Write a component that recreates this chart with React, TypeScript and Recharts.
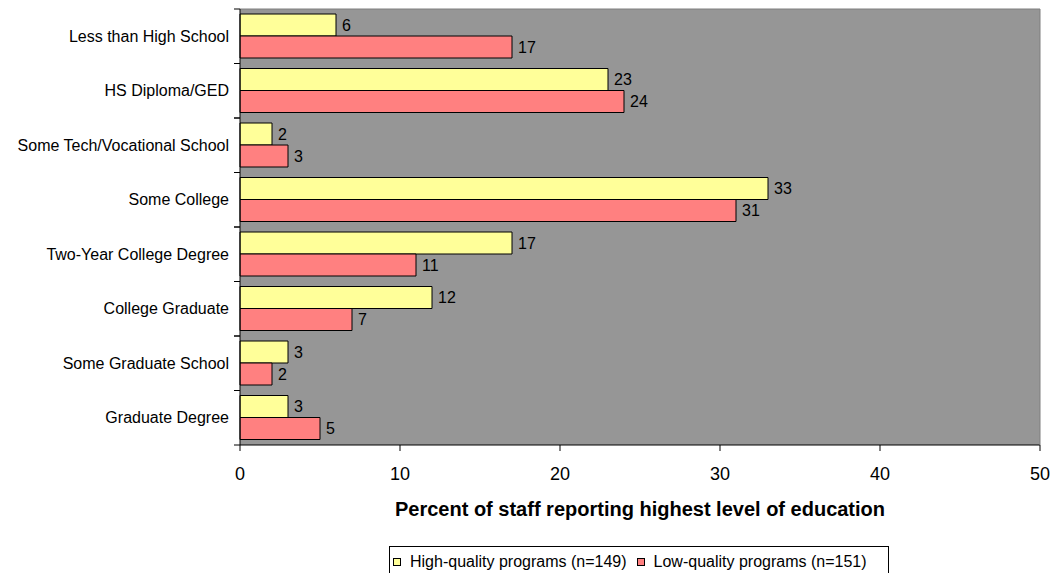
import React from "react";
import { BarChart, Bar, XAxis, YAxis, CartesianGrid, LabelList, Legend } from "recharts";

// Highest level of education reported by staff, in percent
const categories = [
  "Less than High School",
  "HS Diploma/GED",
  "Some Tech/Vocational School",
  "Some College",
  "Two-Year College Degree",
  "College Graduate",
  "Some Graduate School",
  "Graduate Degree",
];
const highQuality = [6, 23, 2, 33, 17, 12, 3, 3];
const lowQuality = [17, 24, 3, 31, 11, 7, 2, 5];
const xTicks = [0, 10, 20, 30, 40, 50];

const seriesNames = {
  high: "High-quality programs (n=149)",
  low: "Low-quality programs (n=151)",
};

const data = categories.map((category, i) => ({
  category,
  high: highQuality[i],
  low: lowQuality[i],
}));

const W = 1054;
const H = 573;
const MARGIN = { top: 8, right: 13, left: 0, bottom: 0 };
const X_AXIS_H = 80;
const LEGEND_H = 48;
const PLOT_TOP = MARGIN.top + 1;
const PLOT_H = H - PLOT_TOP - X_AXIS_H - LEGEND_H;
const BAND = PLOT_H / categories.length;

const YELLOW = "#FFFF99";
const RED = "#FF8080";
const PLOT_BG = "#969696";

// Category label plus Excel-style tick marks on the band edges
function CategoryTick({ x, y, payload }: any) {
  const axisX = x + 11;
  const half = BAND / 2;
  return (
    <g>
      <line x1={axisX - 6} x2={axisX} y1={y - half} y2={y - half} stroke="#000" />
      <line x1={axisX - 6} x2={axisX} y1={y + half} y2={y + half} stroke="#000" />
      <text x={x} y={y} dy="0.355em" textAnchor="end" fontSize={16} fill="#000">
        {payload.value}
      </text>
    </g>
  );
}

function AxisTitle({ viewBox }: any) {
  const { x, y, width } = viewBox;
  return (
    <text x={x + width / 2} y={y + 71} textAnchor="middle" fontSize={20} fontWeight="bold" fill="#000">
      Percent of staff reporting highest level of education
    </text>
  );
}

function LegendBox() {
  const item = (color: string, label: string) => (
    <span style={{ display: "inline-flex", alignItems: "center", marginRight: 10 }}>
      <span
        style={{
          width: 8,
          height: 8,
          boxSizing: "border-box",
          border: "1px solid #000",
          background: color,
          display: "inline-block",
          marginRight: 9,
        }}
      />
      <span style={{ fontSize: 16, color: "#000", whiteSpace: "nowrap" }}>{label}</span>
    </span>
  );
  return (
    <div style={{ position: "relative", height: LEGEND_H }}>
      <div
        style={{
          position: "absolute",
          left: 389,
          top: 21,
          width: 500,
          height: 32,
          boxSizing: "border-box",
          border: "1px solid #000",
          background: "#fff",
          display: "flex",
          alignItems: "center",
          paddingLeft: 3,
        }}
      >
        {item(YELLOW, seriesNames.high)}
        {item(RED, seriesNames.low)}
      </div>
    </div>
  );
}

export default function App() {
  return (
    <div
      style={{
        position: "absolute",
        left: 0,
        top: 0,
        width: W,
        height: H,
        overflow: "hidden",
        background: "#fff",
        fontFamily: "Arial, 'Liberation Sans', sans-serif",
      }}
    >
      <BarChart width={W} height={H} data={data} layout="vertical" margin={MARGIN} barCategoryGap={5} barGap={0}>
        <CartesianGrid fill={PLOT_BG} fillOpacity={1} horizontal={false} vertical={false} />
        <XAxis
          type="number"
          domain={[0, 50]}
          ticks={xTicks}
          height={X_AXIS_H}
          tickSize={6}
          tickMargin={16}
          axisLine={{ stroke: "#000" }}
          tickLine={{ stroke: "#000" }}
          tick={{ fontSize: 18, fill: "#000" }}
          label={<AxisTitle />}
        />
        {/* thin grey frame on the top and right of the plot */}
        <XAxis
          xAxisId="top"
          orientation="top"
          type="number"
          domain={[0, 50]}
          height={1}
          tick={false}
          tickLine={false}
          axisLine={{ stroke: "#7f7f7f" }}
        />
        <YAxis
          yAxisId="right"
          orientation="right"
          type="category"
          dataKey="category"
          width={1}
          tick={false}
          tickLine={false}
          axisLine={{ stroke: "#7f7f7f" }}
        />
        <YAxis
          type="category"
          dataKey="category"
          width={240}
          interval={0}
          tickSize={6}
          tickMargin={5}
          tickLine={false}
          axisLine={{ stroke: "#000" }}
          tick={<CategoryTick />}
        />
        <Legend verticalAlign="bottom" content={<LegendBox />} wrapperStyle={{ left: 0, width: W, height: LEGEND_H }} />
        <Bar dataKey="high" name={seriesNames.high} fill={YELLOW} stroke="#000" strokeWidth={1} isAnimationActive={false}>
          <LabelList dataKey="high" position="right" offset={6} fontSize={16} fill="#000" />
        </Bar>
        <Bar dataKey="low" name={seriesNames.low} fill={RED} stroke="#000" strokeWidth={1} isAnimationActive={false}>
          <LabelList dataKey="low" position="right" offset={6} fontSize={16} fill="#000" />
        </Bar>
      </BarChart>
    </div>
  );
}
